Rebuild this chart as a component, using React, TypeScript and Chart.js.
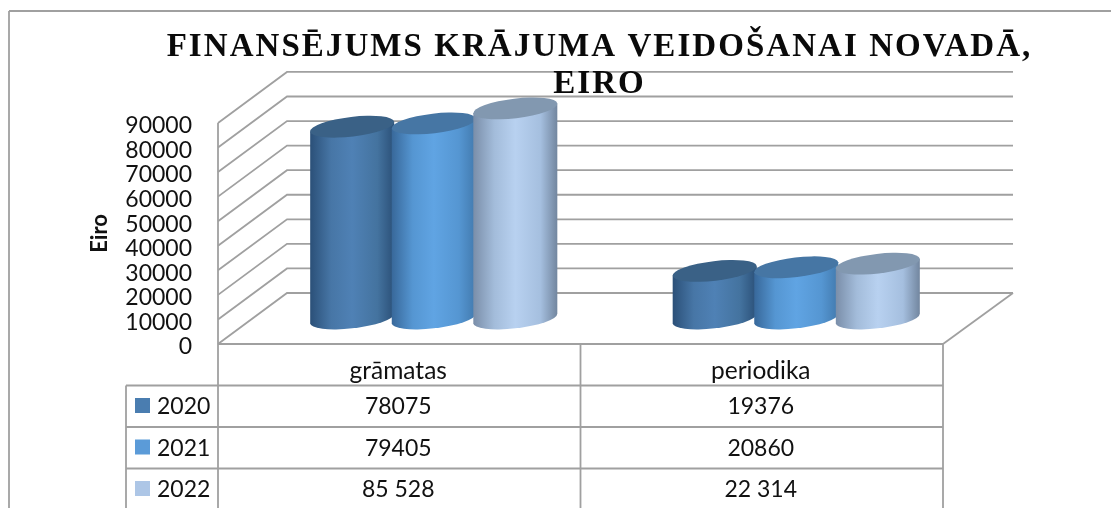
import React, { useEffect, useRef } from "react";
import { Chart, registerables } from "chart.js";

Chart.register(...registerables);

const categories = ["grāmatas", "periodika"];
const seriesNames = ["2020", "2021", "2022"];
const values2020 = [78075, 19376];
const values2021 = [79405, 20860];
const values2022 = [85528, 22314];
const tableText2020 = ["78075", "19376"];
const tableText2021 = ["79405", "20860"];
const tableText2022 = ["85 528", "22 314"];
const titleLines = ["FINANSĒJUMS KRĀJUMA VEIDOŠANAI NOVADĀ,", "EIRO"];
const axisTitle = "Eiro";

const swatchColors = ["#4a7db0", "#5b9bd8", "#adc6e6"];
const topColors = ["#3a6186", "#4676a4", "#8298b0"];
const bodyStops = [
  ["#2b5078", "#4776a6", "#4f81b5", "#44739f", "#2b5078"],
  ["#38689a", "#5596d2", "#60a4e3", "#5596d2", "#427aae"],
  ["#7a8ea9", "#a3bcda", "#b8d1f0", "#a5bfdf", "#72869f"],
];

const LINE = "#a0a0a0";
const FONT = "Lato";
const DEPTH_X = 69;
const DEPTH_Y = 51;

function line(ctx: any, x1: number, y1: number, x2: number, y2: number) {
  ctx.beginPath();
  ctx.moveTo(x1, y1);
  ctx.lineTo(x2, y2);
  ctx.stroke();
}

const scene = {
  id: "scene",
  afterLayout(chart: any) {
    const t = chart.titleBlock;
    t.top = 29;
    t.bottom = 152;
    t.left = 88;
    t.right = 1111;
    if (!t._spaced) {
      const orig = t.draw;
      t.draw = function () {
        const c = this.ctx;
        c.letterSpacing = "2.05px";
        orig.call(this);
        c.letterSpacing = "0px";
      };
      t._spaced = true;
    }
    const y = chart.scales.y;
    if (!y._nudged) {
      const compute = y._computeLabelItems;
      y._computeLabelItems = function (area: any) {
        const items = compute.call(this, area);
        items.forEach((it: any) => {
          it.options.translation = [it.options.translation[0], it.options.translation[1] + 3];
        });
        return items;
      };
      y._nudged = true;
      y._labelItems = null;
    }
  },
  beforeDraw(chart: any) {
    const { ctx, scales, chartArea: a } = chart;
    const y = scales.y;
    ctx.save();
    ctx.fillStyle = "#fff";
    ctx.fillRect(0, 0, 1111, 508);
    ctx.strokeStyle = LINE;
    ctx.lineWidth = 1.8;
    // outer frame
    line(ctx, 9, 11, 1111, 11);
    line(ctx, 9, 11, 9, 508);
    // walls
    y.ticks.forEach((tick: any) => {
      const py = y.getPixelForValue(tick.value);
      ctx.beginPath();
      ctx.moveTo(a.left, py);
      ctx.lineTo(a.left + DEPTH_X, py - DEPTH_Y);
      ctx.lineTo(a.right + DEPTH_X + 1, py - DEPTH_Y);
      ctx.stroke();
    });
    // floor
    const y0 = y.getPixelForValue(0);
    line(ctx, a.left, y0, a.right, y0);
    line(ctx, a.right, y0, a.right + DEPTH_X + 1, y0 - DEPTH_Y);
    line(ctx, a.left, a.top, a.left, y0);
    ctx.restore();
  },
  beforeDatasetDraw() {
    return false;
  },
  afterDatasetsDraw(chart: any) {
    const { ctx } = chart;
    const rot = -0.117;
    const dx = DEPTH_X / 2;
    const dy = DEPTH_Y / 2;
    chart.data.datasets.forEach((_d: any, i: number) => {
      const meta = chart.getDatasetMeta(i);
      meta.data.forEach((el: any) => {
        const cx = el.x + dx;
        const a = el.width / 2 + 1.5;
        const b = 9.8;
        const topY = el.y - dy;
        const baseY = el.base - dy;
        const t0 = Math.atan(-(b / a) * Math.tan(rot));
        const ex = a * Math.cos(t0) * Math.cos(rot) - b * Math.sin(t0) * Math.sin(rot);
        const ey = a * Math.cos(t0) * Math.sin(rot) + b * Math.sin(t0) * Math.cos(rot);
        const g = ctx.createLinearGradient(cx - ex, 0, cx + ex, 0);
        const s = bodyStops[i];
        [0, 0.25, 0.5, 0.8, 1].forEach((p, k) => g.addColorStop(p, s[k]));
        ctx.save();
        ctx.fillStyle = g;
        ctx.beginPath();
        ctx.ellipse(cx, baseY, a, b, rot, t0, t0 + Math.PI);
        ctx.lineTo(cx - ex, topY - ey);
        ctx.lineTo(cx + ex, topY + ey);
        ctx.closePath();
        ctx.fill();
        ctx.fillStyle = topColors[i];
        ctx.beginPath();
        ctx.ellipse(cx, topY, a, b, rot, 0, Math.PI * 2);
        ctx.fill();
        ctx.restore();
      });
    });

    // data table
    const { chartArea: area } = chart;
    const xs = chart.scales.x;
    const left = 126;
    const mid = (area.left + area.right) / 2;
    const rows = [385.5, 427, 468.5];
    const bottom = 508;
    ctx.save();
    ctx.strokeStyle = LINE;
    ctx.lineWidth = 1.8;
    [area.left, mid, area.right].forEach((x) => line(ctx, x, area.bottom, x, bottom));
    line(ctx, left, rows[0], left, bottom);
    rows.forEach((r) => line(ctx, left, r, area.right, r));
    ctx.fillStyle = "#111";
    ctx.textBaseline = "middle";
    ctx.textAlign = "center";
    ctx.font = `24.5px ${FONT}`;
    categories.forEach((c, i) => ctx.fillText(c, xs.getPixelForValue(i) - 1, 371));
    ctx.font = `23px ${FONT}`;
    [tableText2020, tableText2021, tableText2022].forEach((texts, r) => {
      texts.forEach((t, i) => ctx.fillText(t, xs.getPixelForValue(i) - 1, rows[r] + 21.5));
    });
    seriesNames.forEach((name, r) => {
      ctx.fillStyle = swatchColors[r];
      ctx.fillRect(135, rows[r] + 12.5, 15, 15);
      ctx.fillStyle = "#111";
      ctx.textAlign = "left";
      ctx.fillText(name, 157, rows[r] + 21.5);
    });
    ctx.restore();
  },
};

export default function App() {
  const ref = useRef<HTMLCanvasElement>(null);
  useEffect(() => {
    const chart = new Chart(ref.current as any, {
      type: "bar",
      data: {
        labels: categories,
        datasets: [
          { label: seriesNames[0], data: values2020, backgroundColor: swatchColors[0] },
          { label: seriesNames[1], data: values2021, backgroundColor: swatchColors[1] },
          { label: seriesNames[2], data: values2022, backgroundColor: swatchColors[2] },
        ],
      },
      plugins: [scene as any],
      options: {
        responsive: false,
        animation: false,
        events: [],
        layout: { autoPadding: false, padding: { left: 87, right: 168, top: 0, bottom: 164 } },
        datasets: { bar: { categoryPercentage: 0.675, barPercentage: 1 } },
        plugins: {
          legend: { display: false },
          tooltip: { enabled: false },
          title: {
            display: true,
            text: titleLines,
            color: "#0a0a0a",
            font: { family: "'Liberation Serif'", size: 33, weight: "bold", lineHeight: 1.12 },
            padding: { top: 0, bottom: 49 },
          },
        },
        scales: {
          x: { display: false, offset: true },
          y: {
            min: 0,
            max: 90000,
            ticks: {
              stepSize: 10000,
              autoSkip: false,
              padding: 26,
              color: "#111",
              font: { family: FONT, size: 23 },
              callback: (v: any) => String(v),
            },
            grid: { display: false, drawTicks: false },
            border: { display: false },
            title: {
              display: true,
              text: axisTitle,
              color: "#111",
              font: { family: FONT, size: 22, weight: "bold" },
              padding: { top: 0, bottom: 0 },
            },
            afterFit: (s: any) => {
              s.width = 131;
            },
          },
        },
      } as any,
    });
    return () => chart.destroy();
  }, []);
  return (
    <canvas
      ref={ref}
      width={1111}
      height={508}
      style={{ position: "fixed", left: 0, top: 0, width: 1111, height: 508 }}
    />
  );
}
